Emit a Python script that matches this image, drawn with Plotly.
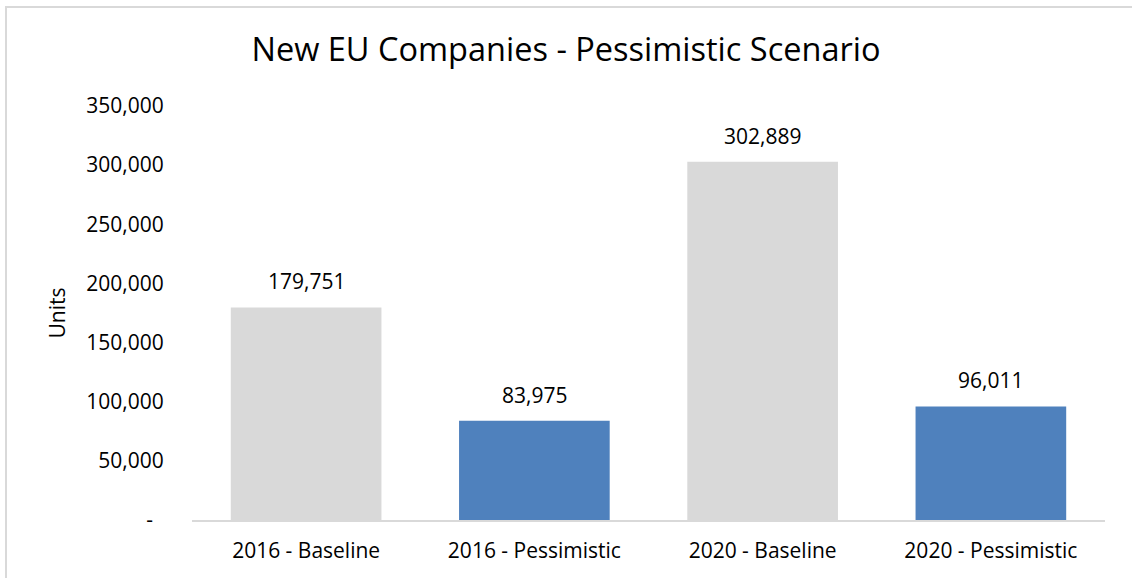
import plotly.graph_objects as go

# Scenario categories and company counts
categories = ["2016 - Baseline", "2016 - Pessimistic", "2020 - Baseline", "2020 - Pessimistic"]
values = [179751, 83975, 302889, 96011]
bar_colors = ["#d9d9d9", "#4f81bd", "#d9d9d9", "#4f81bd"]

tick_vals = [0, 50000, 100000, 150000, 200000, 250000, 300000, 350000]
tick_text = ["-\u00a0\u00a0", "50,000", "100,000", "150,000", "200,000", "250,000", "300,000", "350,000"]

FONT = "Open Sans"

fig = go.Figure()
fig.add_trace(go.Bar(
    x=categories,
    y=values,
    marker=dict(color=bar_colors, line=dict(width=0)),
    hoverinfo="skip",
    showlegend=False,
))

# Value labels above each bar
for c, v in zip(categories, values):
    fig.add_annotation(
        x=c, y=v, text=f"{v:,}", showarrow=False,
        yanchor="bottom", yshift=10,
        font=dict(family=FONT, size=21, color="#000000"),
    )

# Outer chart frame
fig.add_shape(
    type="rect", xref="paper", yref="paper",
    x0=-0.2037, x1=1.2, y0=-0.5, y1=1.239,
    line=dict(color="#d9d9d9", width=2), fillcolor="rgba(0,0,0,0)",
    layer="below",
)

fig.update_layout(
    width=1132, height=578,
    margin=dict(l=192, r=27, t=106, b=58),
    paper_bgcolor="white", plot_bgcolor="white",
    bargap=0.34,
    title=dict(
        text="New EU Companies - Pessimistic Scenario",
        x=0.5, xref="container", xanchor="center",
        y=1 - 50 / 578, yref="container", yanchor="middle",
        font=dict(family=FONT, size=32.5, color="#000000"),
    ),
    xaxis=dict(
        showgrid=False, showline=True, linecolor="#d9d9d9", linewidth=2,
        ticks="outside", ticklen=11, tickcolor="rgba(0,0,0,0)",
        tickfont=dict(family=FONT, size=21, color="#000000"),
        zeroline=False,
    ),
    yaxis=dict(
        range=[0, 350000],
        tickvals=tick_vals, ticktext=tick_text,
        showgrid=False, showline=False, zeroline=False,
        ticks="outside", ticklen=23, tickcolor="rgba(0,0,0,0)",
        tickfont=dict(family=FONT, size=21, color="#000000"),
        title=dict(text="Units", font=dict(family=FONT, size=21, color="#000000"), standoff=14),
    ),
)

fig.write_html("out.html")
